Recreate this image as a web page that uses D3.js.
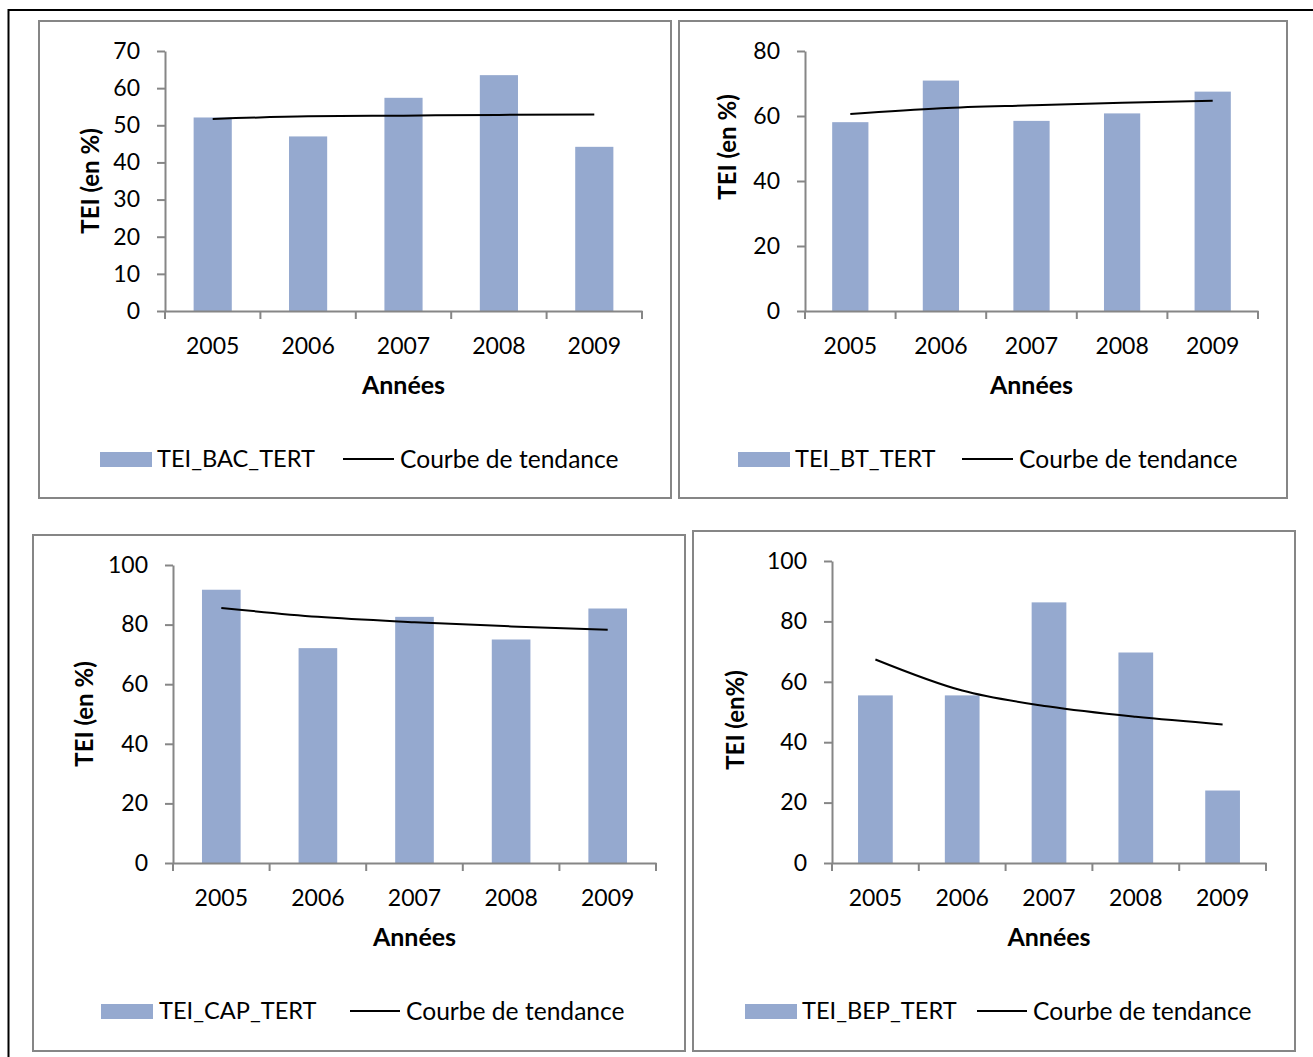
<!DOCTYPE html>
<html>
<head>
<meta charset="utf-8">
<script src="https://cdn.jsdelivr.net/npm/d3@7"></script>
<style>
  body { margin: 0; background: #fff; }
  svg text { font-family: Lato, "Open Sans", sans-serif; fill: #000; }
</style>
</head>
<body>
<svg id="page" width="1313" height="1057"></svg>
<script>
// categories shared by the four charts
var years = ["2005", "2006", "2007", "2008", "2009"];

// bar values (TEI, %)
var teiBac = [52.1, 47.0, 57.4, 63.5, 44.2];
var teiBt  = [58.1, 70.9, 58.5, 60.8, 67.5];
var teiCap = [91.7, 72.1, 82.6, 75.0, 85.4];
var teiBep = [55.5, 55.5, 86.3, 69.7, 24.0];

// trend curve, read at each year
var trendBac = [51.7, 52.4, 52.6, 52.8, 52.9];
var trendBt  = [60.6, 62.4, 63.3, 64.1, 64.7];
var trendCap = [85.6, 82.6, 80.8, 79.4, 78.3];
var trendBep = [67.4, 57.1, 51.8, 48.4, 45.9];

// y tick labels
var ticksBac = [0, 10, 20, 30, 40, 50, 60, 70];
var ticksBt  = [0, 20, 40, 60, 80];
var ticksCap = [0, 20, 40, 60, 80, 100];
var ticksBep = [0, 20, 40, 60, 80, 100];

var seriesNames = ["TEI_BAC_TERT", "TEI_BT_TERT", "TEI_CAP_TERT", "TEI_BEP_TERT"];
var trendName = "Courbe de tendance";

var barColor = "#95a9cf";
var axisColor = "#868686";

var svg = d3.select("#page");

// outer frame
svg.append("rect")
    .attr("x", 8.5).attr("y", 10)
    .attr("width", 1330).attr("height", 1070)
    .attr("fill", "none").attr("stroke", "#000").attr("stroke-width", 2);

var charts = [
    {values: teiBac, trend: trendBac, ticks: ticksBac, max: 70, name: seriesNames[0], ytitle: "TEI (en %)",
     box: [39, 21, 671, 498], plot: [165, 51, 642, 311], ytitleX: 91, ytitleY: 181, legY: 459,
     leg: [100, 157, 343, 400]},
    {values: teiBt, trend: trendBt, ticks: ticksBt, max: 80, name: seriesNames[1], ytitle: "TEI (en %)",
     box: [679, 21, 1287, 498], plot: [805, 51, 1258, 311], ytitleX: 728, ytitleY: 147, legY: 459,
     leg: [738, 795, 962, 1019]},
    {values: teiCap, trend: trendCap, ticks: ticksCap, max: 100, name: seriesNames[2], ytitle: "TEI (en %)",
     box: [33, 535, 685, 1051], plot: [173, 565, 656, 863], ytitleX: 85, ytitleY: 714, legY: 1011,
     leg: [101, 159, 350, 406]},
    {values: teiBep, trend: trendBep, ticks: ticksBep, max: 100, name: seriesNames[3], ytitle: "TEI (en%)",
     box: [693, 531, 1295, 1051], plot: [832, 561, 1266, 863], ytitleX: 736, ytitleY: 720, legY: 1011,
     leg: [745, 802, 977, 1033]}
];

charts.forEach(drawChart);

function drawChart(c) {

    var g = svg.append("g");

    // panel border
    g.append("rect")
        .attr("x", c.box[0]).attr("y", c.box[1])
        .attr("width", c.box[2] - c.box[0]).attr("height", c.box[3] - c.box[1])
        .attr("fill", "#fff").attr("stroke", axisColor).attr("stroke-width", 2);

    var x = d3.scaleBand()
        .domain(years)
        .range([c.plot[0], c.plot[2]])
        .paddingInner(0.6)
        .paddingOuter(0.3);

    var y = d3.scaleLinear()
        .domain([0, c.max])
        .range([c.plot[3], c.plot[1]]);

    // bars
    g.selectAll(".bar")
        .data(c.values)
        .enter().append("rect")
        .attr("class", "bar")
        .attr("x", function(d, i){ return x(years[i]); })
        .attr("y", function(d){ return y(d); })
        .attr("width", x.bandwidth())
        .attr("height", function(d){ return y(0) - y(d); })
        .attr("fill", barColor);

    // y axis
    var yAxis = g.append("g")
        .attr("transform", "translate(" + c.plot[0] + ",0)")
        .call(d3.axisLeft(y).tickValues(c.ticks).tickSize(8).tickSizeOuter(0).tickPadding(17));
    yAxis.selectAll("path, line").attr("stroke", axisColor).attr("stroke-width", 2);
    yAxis.selectAll("text").attr("font-size", 23).attr("font-family", null);

    // x axis: labels centred on categories, ticks on category edges
    var xAxis = g.append("g")
        .attr("transform", "translate(0," + c.plot[3] + ")")
        .call(d3.axisBottom(x).tickSize(0).tickSizeOuter(0).tickPadding(27));
    xAxis.select("path").attr("stroke", axisColor).attr("stroke-width", 2);
    xAxis.selectAll("text").attr("font-size", 23).attr("font-family", null);

    g.selectAll(".xtick")
        .data(d3.range(years.length + 1))
        .enter().append("line")
        .attr("class", "xtick")
        .attr("x1", function(i){ return c.plot[0] + i * x.step(); })
        .attr("x2", function(i){ return c.plot[0] + i * x.step(); })
        .attr("y1", c.plot[3])
        .attr("y2", c.plot[3] + 8)
        .attr("stroke", axisColor).attr("stroke-width", 2);

    // trend curve
    var line = d3.line()
        .x(function(d, i){ return x(years[i]) + x.bandwidth() / 2; })
        .y(function(d){ return y(d); })
        .curve(d3.curveMonotoneX);

    g.append("path")
        .datum(c.trend)
        .attr("d", line)
        .attr("fill", "none")
        .attr("stroke", "#000")
        .attr("stroke-width", 2);

    // axis titles
    g.append("text")
        .attr("x", (c.plot[0] + c.plot[2]) / 2)
        .attr("y", c.plot[3] + 83)
        .attr("text-anchor", "middle")
        .attr("font-size", 25).attr("font-weight", "bold")
        .text("Années");

    g.append("text")
        .attr("transform", "translate(" + c.ytitleX + "," + c.ytitleY + ") rotate(-90)")
        .attr("text-anchor", "middle")
        .attr("dy", "0.35em")
        .attr("font-size", 24).attr("font-weight", "bold")
        .text(c.ytitle);

    // legend
    g.append("rect")
        .attr("x", c.leg[0]).attr("y", c.legY - 7)
        .attr("width", 52).attr("height", 15)
        .attr("fill", barColor);
    g.append("text")
        .attr("x", c.leg[1]).attr("y", c.legY)
        .attr("dy", "0.35em")
        .attr("font-size", 23.6)
        .text(c.name);
    g.append("line")
        .attr("x1", c.leg[2]).attr("x2", c.leg[3] - 6)
        .attr("y1", c.legY).attr("y2", c.legY)
        .attr("stroke", "#000").attr("stroke-width", 2);
    g.append("text")
        .attr("x", c.leg[3]).attr("y", c.legY)
        .attr("dy", "0.35em")
        .attr("font-size", 24.6)
        .text(trendName);
}
</script>
</body>
</html>
